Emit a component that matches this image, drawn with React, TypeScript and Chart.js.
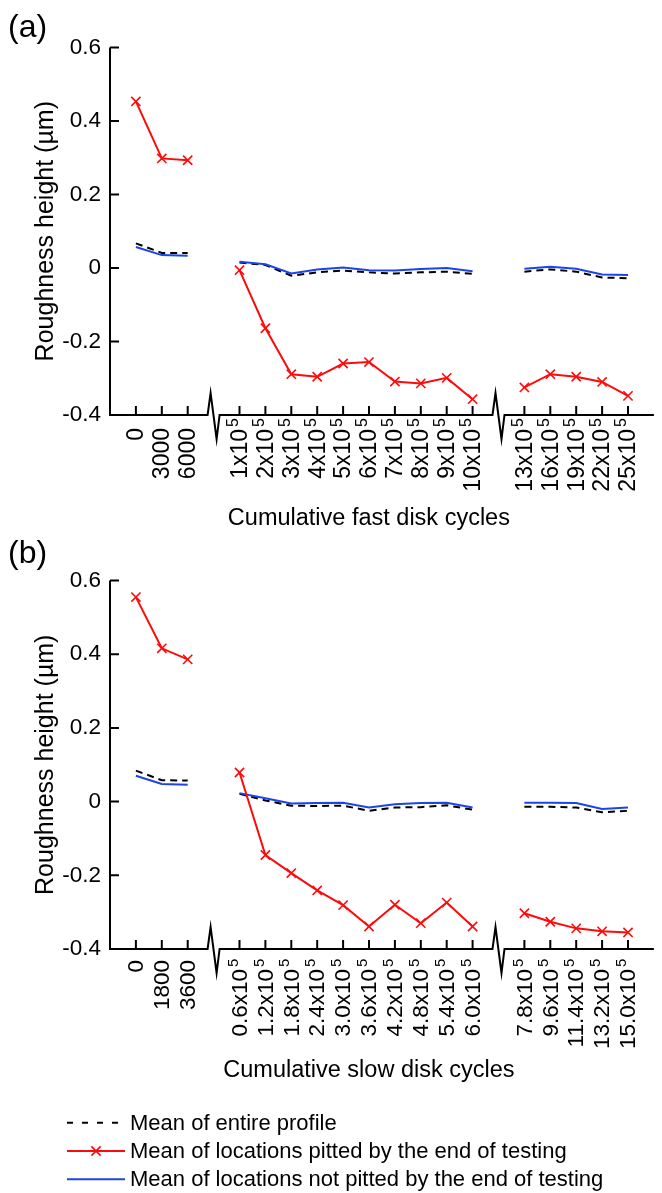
import React, { useEffect, useRef } from 'react';
import { Chart, registerables } from 'chart.js';

Chart.register(...registerables);

const FONT = '"Liberation Sans", Arial, Helvetica, sans-serif';

// ---- categories (null = axis break position) ----
const FAST_LABELS: (string | null)[] = ['0', '3000', '6000', null, '1x10⁵', '2x10⁵', '3x10⁵', '4x10⁵', '5x10⁵', '6x10⁵', '7x10⁵', '8x10⁵', '9x10⁵', '10x10⁵', null, '13x10⁵', '16x10⁵', '19x10⁵', '22x10⁵', '25x10⁵'];
const SLOW_LABELS: (string | null)[] = ['0', '1800', '3600', null, '0.6x10⁵', '1.2x10⁵', '1.8x10⁵', '2.4x10⁵', '3.0x10⁵', '3.6x10⁵', '4.2x10⁵', '4.8x10⁵', '5.4x10⁵', '6.0x10⁵', null, '7.8x10⁵', '9.6x10⁵', '11.4x10⁵', '13.2x10⁵', '15.0x10⁵'];
const AXIS_BREAKS = [3, 14];

// ---- y ticks ----
const Y_MIN = -0.4;
const Y_MAX = 0.6;
const Y_STEP = 0.2;

// ---- series: (a) fast disk ----
const FAST_ENTIRE = [0.067, 0.041, 0.041, null, 0.015, 0.008, -0.021, -0.012, -0.007, -0.012, -0.015, -0.012, -0.010, -0.016, null, -0.010, -0.004, -0.010, -0.026, -0.028];
const FAST_PITTED = [0.453, 0.298, 0.293, null, -0.006, -0.164, -0.289, -0.296, -0.260, -0.256, -0.309, -0.314, -0.299, -0.357, null, -0.325, -0.289, -0.296, -0.310, -0.348];
const FAST_NOT_PITTED = [0.057, 0.035, 0.033, null, 0.017, 0.010, -0.015, -0.004, 0.001, -0.006, -0.007, -0.003, 0.000, -0.009, null, -0.002, 0.003, -0.002, -0.018, -0.019];

// ---- series: (b) slow disk ----
const SLOW_ENTIRE = [0.084, 0.058, 0.057, null, 0.021, 0.003, -0.011, -0.012, -0.011, -0.025, -0.016, -0.015, -0.010, -0.022, null, -0.014, -0.014, -0.016, -0.029, -0.025];
const SLOW_PITTED = [0.555, 0.416, 0.386, null, 0.079, -0.145, -0.194, -0.241, -0.281, -0.339, -0.280, -0.330, -0.274, -0.339, null, -0.303, -0.326, -0.344, -0.352, -0.355];
const SLOW_NOT_PITTED = [0.070, 0.048, 0.046, null, 0.023, 0.009, -0.005, -0.004, -0.003, -0.016, -0.007, -0.004, -0.003, -0.016, null, -0.003, -0.003, -0.004, -0.020, -0.016];

const SERIES_NAMES = ['Mean of entire profile', 'Mean of locations pitted by the end of testing', 'Mean of locations not pitted by the end of testing'];

const RED = '#ff0a0a';
const BLUE = '#1c44e6';
const BLACK = '#000000';

const SUP_MAP: Record<string, string> = { '⁰': '0', '¹': '1', '²': '2', '³': '3', '⁴': '4', '⁵': '5', '⁶': '6', '⁷': '7', '⁸': '8', '⁹': '9' };

const toPoints = (vals: (number | null)[]) => vals.map((v, i) => ({ x: i, y: v }));

const axisDecor = {
  id: 'axisDecor',
  afterDatasetsDraw(chart: any, _args: any, opts: any) {
    const { ctx, chartArea } = chart;
    const { left, right, top, bottom } = chartArea;
    const x = chart.scales.x;
    const y = chart.scales.y;
    const labels: (string | null)[] = opts.labels || [];
    const breaks: number[] = opts.breaks || [];
    ctx.save();
    ctx.strokeStyle = '#000';
    ctx.lineWidth = 2;
    ctx.lineJoin = 'miter';
    ctx.beginPath();
    // y axis line
    ctx.moveTo(left, top);
    ctx.lineTo(left, bottom + 1);
    // y tick marks (inside)
    y.ticks.forEach((t: any) => {
      const py = y.getPixelForValue(t.value);
      ctx.moveTo(left, py);
      ctx.lineTo(left + 9, py);
    });
    ctx.stroke();
    // x axis with break glyphs
    ctx.beginPath();
    ctx.moveTo(left - 1, bottom);
    breaks.forEach((b) => {
      const c = x.getPixelForValue(b);
      ctx.lineTo(c - 6, bottom);
      ctx.lineTo(c - 3, bottom - 22);
      ctx.lineTo(c + 3, bottom + 24);
      ctx.lineTo(c + 6, bottom);
    });
    ctx.lineTo(right, bottom);
    ctx.stroke();
    // x tick marks (inside)
    ctx.beginPath();
    labels.forEach((lab, i) => {
      if (lab == null) return;
      const px = x.getPixelForValue(i);
      ctx.moveTo(px, bottom);
      ctx.lineTo(px, bottom - 9);
    });
    ctx.stroke();
    // x tick labels (rotated, with superscript exponents)
    ctx.fillStyle = '#000';
    labels.forEach((lab, i) => {
      if (lab == null) return;
      const px = x.getPixelForValue(i);
      const m = lab.match(/^(.*?)([⁰¹²³⁴⁵⁶⁷⁸⁹]+)$/);
      const main = m ? m[1] : lab;
      const sup = m ? m[2].split('').map((ch) => SUP_MAP[ch]).join('') : '';
      ctx.save();
      ctx.translate(px, bottom + (sup ? opts.supGap : opts.plainGap));
      ctx.rotate(-Math.PI / 2);
      ctx.font = `${opts.fontSize}px ${FONT}`;
      ctx.textAlign = 'right';
      ctx.textBaseline = 'middle';
      ctx.fillText(main, 0, 1);
      if (sup) {
        ctx.font = `${Math.round(opts.fontSize * 0.68)}px ${FONT}`;
        ctx.textAlign = 'left';
        ctx.fillText(sup, 2, -6);
      }
      ctx.restore();
    });
    ctx.restore();
  },
};

const lineLegend = {
  id: 'lineLegend',
  afterDraw(chart: any, _args: any, opts: any) {
    if (!opts || !opts.show) return;
    const { ctx } = chart;
    const base = chart.scales.x.bottom;
    const order: number[] = opts.order;
    ctx.save();
    order.forEach((di, row) => {
      const ds = chart.data.datasets[di];
      const yy = base + 38.2 + row * 28.3;
      const x0 = 67;
      const x1 = 125;
      ctx.beginPath();
      ctx.strokeStyle = ds.borderColor;
      ctx.lineWidth = ds.borderWidth;
      ctx.setLineDash(ds.borderDash && ds.borderDash.length ? [6, 9] : []);
      ctx.moveTo(x0, yy);
      ctx.lineTo(x1, yy);
      ctx.stroke();
      ctx.setLineDash([]);
      if (ds.pointRadius > 0) {
        const cx = (x0 + x1) / 2;
        const r = ds.pointRadius * Math.SQRT1_2;
        ctx.lineWidth = ds.pointBorderWidth;
        ctx.beginPath();
        ctx.moveTo(cx - r, yy - r);
        ctx.lineTo(cx + r, yy + r);
        ctx.moveTo(cx - r, yy + r);
        ctx.lineTo(cx + r, yy - r);
        ctx.stroke();
      }
      ctx.fillStyle = '#000';
      ctx.font = `22px ${FONT}`;
      ctx.textAlign = 'left';
      ctx.textBaseline = 'middle';
      ctx.fillText(ds.label, 130, yy + 1);
    });
    ctx.restore();
  },
};

type PanelSpec = {
  letter: string;
  labels: (string | null)[];
  entire: (number | null)[];
  pitted: (number | null)[];
  notPitted: (number | null)[];
  xTitle: string;
  xHeight: number;
  padBottom: number;
  titlePad: { top: number; bottom: number };
  tickFont: number;
  plainGap: number;
  supGap: number;
  legend: boolean;
};

function makeConfig(p: PanelSpec): any {
  return {
    type: 'line',
    data: {
      datasets: [
        {
          label: SERIES_NAMES[0],
          data: toPoints(p.entire),
          borderColor: BLACK,
          borderWidth: 2,
          borderDash: [7, 5],
          pointRadius: 0,
          pointBorderWidth: 0,
          spanGaps: false,
          order: 2,
        },
        {
          label: SERIES_NAMES[1],
          data: toPoints(p.pitted),
          borderColor: RED,
          borderWidth: 2,
          pointStyle: 'crossRot',
          pointRadius: 6.5,
          pointBorderWidth: 1.6,
          pointBorderColor: RED,
          pointBackgroundColor: RED,
          spanGaps: false,
          order: 0,
        },
        {
          label: SERIES_NAMES[2],
          data: toPoints(p.notPitted),
          borderColor: BLUE,
          borderWidth: 2,
          pointRadius: 0,
          pointBorderWidth: 0,
          spanGaps: false,
          order: 1,
        },
      ],
    },
    options: {
      responsive: false,
      animation: false,
      events: [],
      layout: { padding: { left: 8, right: 0, top: 0, bottom: p.padBottom } },
      elements: { line: { tension: 0, fill: false } },
      plugins: {
        legend: { display: false },
        tooltip: { enabled: false },
        title: {
          display: true,
          text: p.letter,
          align: 'start',
          color: '#000',
          font: { size: 32, family: FONT, weight: 'normal' },
          padding: p.titlePad,
        },
        axisDecor: { labels: p.labels, breaks: AXIS_BREAKS, fontSize: p.tickFont, plainGap: p.plainGap, supGap: p.supGap },
        lineLegend: { show: p.legend, order: [0, 1, 2] },
      },
      scales: {
        x: {
          type: 'linear',
          min: -1,
          max: 20,
          grid: { display: false, drawTicks: false },
          border: { display: false },
          ticks: { display: false, stepSize: 1, maxTicksLimit: 100 },
          title: {
            display: true,
            text: p.xTitle + '\u00A0\u00A0\u00A0\u00A0',
            color: '#000',
            font: { size: 23.5, family: FONT },
            padding: { top: 0, bottom: 0 },
          },
          afterFit: (s: any) => {
            s.height = p.xHeight;
            s.paddingLeft = 0;
            s.paddingRight = 0;
          },
        },
        y: {
          type: 'linear',
          min: Y_MIN,
          max: Y_MAX,
          grid: { display: false, drawTicks: false },
          border: { display: false },
          ticks: {
            stepSize: Y_STEP,
            color: '#000',
            padding: 9,
            font: { size: 22.5, family: FONT },
            callback: (v: any) => {
              const r = Math.round(Number(v) * 10) / 10;
              return r === 0 ? '0' : String(r);
            },
          },
          title: {
            display: true,
            text: 'Roughness height (µm)',
            color: '#000',
            font: { size: 25, family: FONT },
            padding: { top: 23, bottom: 0 },
          },
          afterFit: (s: any) => {
            s.width = 102;
            s.paddingTop = 0;
            s.paddingBottom = 0;
          },
        },
      },
    },
    plugins: [axisDecor, lineLegend],
  };
}

function Panel({ top, height, spec }: { top: number; height: number; spec: PanelSpec }) {
  const ref = useRef<HTMLCanvasElement>(null);
  useEffect(() => {
    const chart = new Chart(ref.current as HTMLCanvasElement, makeConfig(spec));
    return () => chart.destroy();
  }, []);
  return (
    <canvas
      ref={ref}
      width={662}
      height={height}
      style={{ position: 'absolute', left: 0, top, width: 662, height, display: 'block' }}
    />
  );
}

const PANEL_A: PanelSpec = {
  letter: '(a)',
  labels: FAST_LABELS,
  entire: FAST_ENTIRE,
  pitted: FAST_PITTED,
  notPitted: FAST_NOT_PITTED,
  xTitle: 'Cumulative fast disk cycles',
  xHeight: 118,
  padBottom: 12,
  titlePad: { top: 9, bottom: 0 },
  tickFont: 23,
  plainGap: 13,
  supGap: 14,
  legend: false,
};

const PANEL_B: PanelSpec = {
  letter: '(b)',
  labels: SLOW_LABELS,
  entire: SLOW_ENTIRE,
  pitted: SLOW_PITTED,
  notPitted: SLOW_NOT_PITTED,
  xTitle: 'Cumulative slow disk cycles',
  xHeight: 135.5,
  padBottom: 108.5,
  titlePad: { top: 20, bottom: 7.1 },
  tickFont: 22.5,
  plainGap: 11,
  supGap: 20,
  legend: true,
};

export default function App() {
  return (
    <div style={{ position: 'absolute', left: 0, top: 0, width: 662, height: 1193, background: '#fff', overflow: 'hidden' }}>
      <Panel top={0} height={545} spec={PANEL_A} />
      <Panel top={515} height={678} spec={PANEL_B} />
    </div>
  );
}
